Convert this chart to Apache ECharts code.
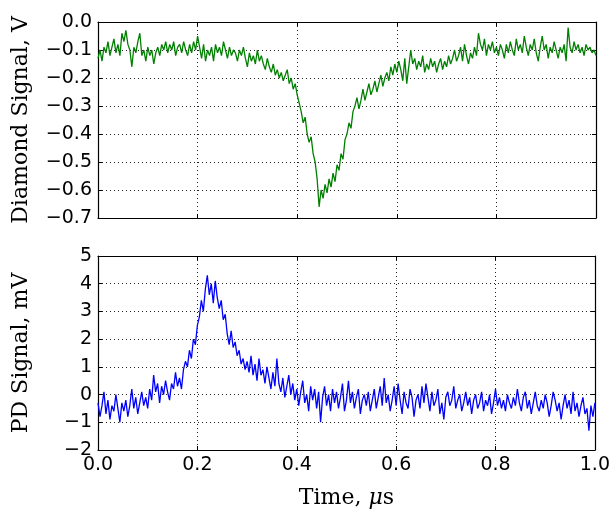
<!DOCTYPE html>
<html><head><meta charset="utf-8">
<script src="https://cdn.jsdelivr.net/npm/echarts@6/dist/echarts.min.js"></script>
<style>html,body{margin:0;padding:0;background:#fff}#c{width:613px;height:510px}</style>
</head><body><div id="c"></div>
<script>
// Sampling interval of both traces (microseconds)
const sampleStep = 0.004;

// Diamond signal (V), one value per sample, t = 0 .. 1.0 us
const diamondSignal = [
 -0.13,-0.10,-0.14,-0.09,-0.11,-0.07,-0.12,-0.09,-0.06,-0.11,
 -0.08,-0.12,-0.04,-0.07,-0.03,-0.08,-0.10,-0.16,-0.09,-0.11,
 -0.07,-0.04,-0.12,-0.10,-0.14,-0.09,-0.12,-0.10,-0.15,-0.11,
 -0.09,-0.12,-0.08,-0.10,-0.07,-0.11,-0.08,-0.10,-0.07,-0.12,
 -0.09,-0.08,-0.11,-0.07,-0.10,-0.12,-0.08,-0.11,-0.07,-0.10,
 -0.05,-0.09,-0.13,-0.08,-0.14,-0.10,-0.12,-0.09,-0.14,-0.08,
 -0.11,-0.09,-0.12,-0.07,-0.10,-0.13,-0.09,-0.12,-0.10,-0.11,
 -0.14,-0.10,-0.12,-0.09,-0.13,-0.16,-0.11,-0.14,-0.12,-0.15,
 -0.10,-0.14,-0.12,-0.15,-0.17,-0.13,-0.16,-0.18,-0.15,-0.19,
 -0.17,-0.20,-0.18,-0.21,-0.19,-0.17,-0.22,-0.20,-0.24,-0.22,
 -0.26,-0.29,-0.32,-0.36,-0.34,-0.40,-0.43,-0.41,-0.47,-0.50,
 -0.56,-0.66,-0.60,-0.63,-0.58,-0.61,-0.56,-0.59,-0.54,-0.57,
 -0.51,-0.53,-0.47,-0.49,-0.42,-0.40,-0.36,-0.38,-0.32,-0.30,
 -0.27,-0.31,-0.28,-0.24,-0.28,-0.25,-0.22,-0.26,-0.24,-0.21,
 -0.25,-0.22,-0.19,-0.23,-0.20,-0.18,-0.21,-0.16,-0.19,-0.15,
 -0.18,-0.14,-0.17,-0.21,-0.13,-0.22,-0.16,-0.10,-0.15,-0.13,
 -0.17,-0.14,-0.16,-0.12,-0.18,-0.15,-0.17,-0.13,-0.16,-0.14,
 -0.18,-0.15,-0.13,-0.17,-0.14,-0.16,-0.12,-0.15,-0.13,-0.10,
 -0.14,-0.12,-0.09,-0.14,-0.08,-0.12,-0.15,-0.11,-0.13,-0.09,
 -0.12,-0.04,-0.08,-0.10,-0.06,-0.12,-0.08,-0.10,-0.07,-0.11,
 -0.09,-0.12,-0.08,-0.10,-0.13,-0.08,-0.11,-0.07,-0.10,-0.12,
 -0.06,-0.10,-0.08,-0.11,-0.05,-0.09,-0.12,-0.08,-0.10,-0.06,
 -0.11,-0.14,-0.09,-0.05,-0.10,-0.08,-0.13,-0.09,-0.11,-0.07,
 -0.10,-0.13,-0.09,-0.11,-0.08,-0.14,-0.02,-0.09,-0.11,-0.07,
 -0.10,-0.08,-0.11,-0.09,-0.12,-0.08,-0.10,-0.09,-0.11,-0.10,
 -0.12
];

// Photodiode signal (mV), same sampling
const pdSignal = [
 -0.3,-0.8,-0.4, 0.1,-0.7,-0.2,-0.9,-0.4,-0.6, 0.0,
 -0.5,-1.0,-0.3,-0.6,-0.2,-0.8,-0.4, 0.2,-0.5,-0.1,
 -0.7,-0.3, 0.1,-0.4,-0.1,-0.5, 0.2,-0.2, 0.7, 0.1,
  0.4,-0.3, 0.3, 0.0, 0.5, 0.1,-0.2, 0.4, 0.2, 0.8,
  0.3, 0.6, 0.2, 0.9, 1.2, 1.0, 1.6, 1.3, 2.0, 1.8,
  2.5, 2.8, 3.4, 3.0, 3.8, 4.3, 3.6, 4.0, 3.3, 4.1,
  3.5, 3.1, 3.4, 2.7, 2.9, 2.2, 1.8, 2.3, 1.7, 1.9,
  1.4, 1.6, 1.1, 1.3, 0.9, 1.2, 0.8, 1.4, 0.7, 1.1,
  0.5, 1.3, 0.7, 0.9, 0.4, 1.0, 0.6, 0.2, 0.8, 0.3,
  1.3, 0.4, 0.1, 0.6,-0.1, 0.3, 0.7, 0.0, 0.4,-0.2,
  0.2,-0.4, 0.1, 0.5,-0.3, 0.0,-0.6, 0.3,-0.2, 0.2,
 -0.5, 0.1,-1.0,-0.1, 0.3,-0.4, 0.0,-0.6, 0.2,-0.3,
  0.1,-0.5,-0.1, 0.4,-0.6,-0.2, 0.5,-0.3, 0.1,-0.5,
 -0.1, 0.2,-0.7,-0.2, 0.0,-0.4, 0.1,-0.6,-0.2, 0.2,
 -0.5,-0.1, 0.3,-0.4, 0.6,-0.3, 0.0,-0.6,-0.2, 0.3,
 -0.4, 0.4,-0.2,-0.7, 0.1,-0.3,-0.5, 0.2,-0.1,-0.8,
 -0.2, 0.0,-0.5, 0.3,-0.3, 0.4,-0.1,-0.6, 0.1,-0.4,
 -0.2, 0.2,-0.7,-0.3,-0.9,-0.1, 0.1,-0.4,-0.2, 0.3,
 -0.5,-0.2, 0.0,-0.6,-0.3, 0.1,-0.4,-0.1,-0.7,-0.2,
  0.0,-0.5,-0.3, 0.1,-0.6,-0.2,-0.4, 0.0,-0.7,-0.3,
  0.2,-0.4,-0.1,-0.5,-0.2,-0.6, 0.0,-0.3,-0.5,-0.1,
 -0.4, 0.2,-0.3,-0.6,-0.1, 0.1,-0.5,-0.2,-0.7,-0.3,
  0.1,-0.4,-0.6,-0.2,-0.5, 0.0,-0.3,-0.8,-0.4, 0.1,
 -0.2,-0.6,-0.3,-0.9,-0.4, 0.0,-0.5,-0.2,-0.7, 0.1,
 -0.6,-0.3,-0.8,-0.4,-0.1,-0.7,-0.5,-1.3,-0.4,-0.8,
 -0.3
];

// Axis ranges
const timeRange = [0, 1.0], timeInterval = 0.2;
const diamondRange = [-0.7, 0.0], diamondInterval = 0.1;
const pdRange = [-2, 5], pdInterval = 1;

const axisTitles = { diamond: 'Diamond Signal, V', pd: 'PD Signal, mV', time: 'Time, {i|\u03bc}s' };

const minus = s => s.replace('-', '\u2212');
const sansFont = 'DejaVu Sans';
const serifFont = 'DejaVu Serif';
const black = '#000';

function xAx(grid, pos, labels, name) {
  return {
    type: 'value', gridIndex: grid, position: pos,
    min: timeRange[0], max: timeRange[1], interval: timeInterval,
    axisLine: { show: true, onZero: false, lineStyle: { color: black, width: 1.2 } },
    axisTick: { show: true, inside: true, length: 4, lineStyle: { color: black, width: 1 } },
    axisLabel: { show: labels, color: black, fontFamily: sansFont, fontSize: 19, margin: 6,
                 formatter: v => v.toFixed(1) },
    splitLine: { show: pos === 'bottom', lineStyle: { color: '#222', type: [1, 3], width: 1 } },
    name: name || '', nameLocation: 'middle', nameGap: 37,
    nameTextStyle: { color: black, fontFamily: serifFont, fontSize: 22,
                     rich: { i: { fontFamily: serifFont, fontStyle: 'italic', fontSize: 22, color: black } } }
  };
}
function yAx(grid, pos, range, interval, digits, name) {
  return {
    type: 'value', gridIndex: grid, position: pos,
    min: range[0], max: range[1], interval: interval,
    axisLine: { show: true, onZero: false, lineStyle: { color: black, width: 1.2 } },
    axisTick: { show: true, inside: true, length: 4, lineStyle: { color: black, width: 1 } },
    axisLabel: { show: pos === 'left', color: black, fontFamily: sansFont, fontSize: 19, margin: 6,
                 formatter: v => minus((Math.abs(v) < 1e-9 ? 0 : v).toFixed(digits)) },
    splitLine: { show: pos === 'left', lineStyle: { color: '#222', type: [1, 3], width: 1 } },
    name: name || '', nameLocation: 'middle', nameGap: 66, nameRotate: 90,
    nameTextStyle: { color: black, fontFamily: serifFont, fontSize: 22 }
  };
}

const chart = echarts.init(document.getElementById('c'), null, { renderer: 'canvas' });
chart.setOption({
  animation: false,
  backgroundColor: '#fff',
  grid: [
    { left: 98, top: 22, width: 498, height: 196 },
    { left: 98, top: 256, width: 498, height: 196 }
  ],
  xAxis: [
    xAx(0, 'bottom', false),
    xAx(0, 'top', false),
    xAx(1, 'bottom', true, axisTitles.time),
    xAx(1, 'top', false)
  ],
  yAxis: [
    yAx(0, 'left', diamondRange, diamondInterval, 1, axisTitles.diamond),
    yAx(0, 'right', diamondRange, diamondInterval, 1),
    yAx(1, 'left', pdRange, pdInterval, 0, axisTitles.pd),
    yAx(1, 'right', pdRange, pdInterval, 0)
  ],
  series: [
    { type: 'line', xAxisIndex: 0, yAxisIndex: 0, showSymbol: false, clip: true,
      lineStyle: { color: '#008000', width: 1.3 }, itemStyle: { color: '#008000' },
      data: diamondSignal.map((v, i) => [i * sampleStep, v]) },
    { type: 'line', xAxisIndex: 2, yAxisIndex: 2, showSymbol: false, clip: true,
      lineStyle: { color: '#0000ff', width: 1.3 }, itemStyle: { color: '#0000ff' },
      data: pdSignal.map((v, i) => [i * sampleStep, v]) }
  ]
});
</script>
</body></html>
